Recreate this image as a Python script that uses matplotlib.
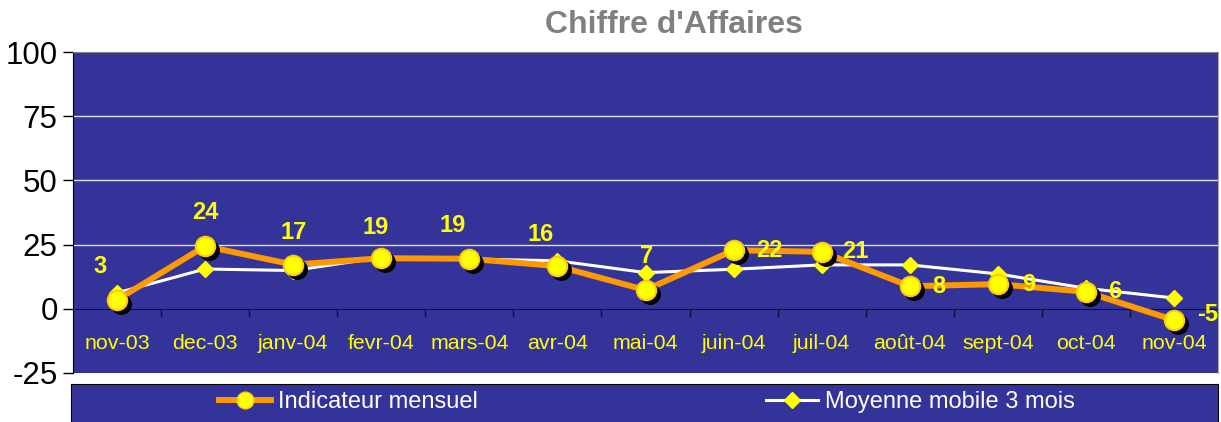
import matplotlib
matplotlib.use("Agg")
import matplotlib.pyplot as plt
import matplotlib.transforms as mtransforms
import numpy as np

plt.rcParams['font.family'] = ['Liberation Sans', 'DejaVu Sans']
plt.rcParams['axes.unicode_minus'] = False

# Data
mois = ["nov-03", "dec-03", "janv-04", "fevr-04", "mars-04", "avr-04", "mai-04",
        "juin-04", "juil-04", "août-04", "sept-04", "oct-04", "nov-04"]
indicateur = [3.5, 24.4, 17.2, 19.7, 19.5, 16.6, 7.3, 22.8, 22.2, 8.8, 9.6, 6.6, -4.4]
etiquettes = ["3", "24", "17", "19", "19", "16", "7", "22", "21", "8", "9", "6", "-5"]
moyenne = [6.2, 15.5, 14.9, 20.0, 19.4, 18.7, 14.1, 15.4, 17.1, 17.1, 13.6, 8.0, 4.2]

navy = "#333399"
orange = "#FF9900"
jaune = "#FFFF00"

W, H = 1221, 422
fig = plt.figure(figsize=(W / 100, H / 100), dpi=100)
ax = fig.add_axes([73 / W, 1 - 373 / H, (1218 - 73) / W, (373 - 52) / H])
ax.set_facecolor(navy)

x = np.arange(len(mois))

# Moyenne mobile (white line, yellow diamonds)
l2, = ax.plot(x, moyenne, color="white", lw=2.2, marker="D", ms=8,
              mfc=jaune, mec=jaune, zorder=3, label="Moyenne mobile 3 mois")

# Indicateur mensuel with black marker shadow
ax.plot(x, indicateur, color=orange, lw=4.3, zorder=4, solid_joinstyle="miter")
shadow = mtransforms.offset_copy(ax.transData, fig=fig, x=4, y=-4, units="dots")
ax.plot(x, indicateur, ls="none", marker="o", ms=14, mfc="black", mec="black",
        transform=shadow, zorder=4.5)
l1, = ax.plot(x, indicateur, ls="none", marker="o", ms=14, mfc=jaune, mec="#FFCC00",
              mew=1.5, zorder=5)
h1 = plt.Line2D([], [], color=orange, lw=4.3, marker="o", ms=12, mfc=jaune, mec="#FFCC00")

# data labels: above for the first months, right of the point afterwards
decal = [(-12, 24), (0, 24), (0, 23), (-4, 22), (-12, 24), (-12, 23), (1, 24),
         (26, 0), (24, 0), (21, 0), (22, 0), (21, 0), (24, 4)]
for i, (v, t) in enumerate(zip(indicateur, etiquettes)):
    dx, dy = decal[i]
    ax.annotate(t, (x[i], v), xytext=(dx, dy), textcoords="offset points",
                ha="center", va="center", color=jaune, fontsize=17,
                fontweight="bold", zorder=6, annotation_clip=False)

ax.set_xlim(-0.5, len(mois) - 0.5)
ax.set_ylim(-25, 100)
ax.set_yticks([-25, 0, 25, 50, 75, 100])
ax.tick_params(axis="y", labelsize=22.5, length=7, width=1, direction="out", pad=4)
for yv in [25, 50, 75]:
    ax.axhline(yv, color="#e0e0f0", lw=1, zorder=1)

ax.spines["bottom"].set_position(("data", 0))
ax.spines["bottom"].set_color("#111133")
ax.spines["bottom"].set_zorder(2)
ax.spines["top"].set_color("#888888")
ax.spines["right"].set_color("#aaaaaa")
ax.spines["left"].set_color("black")
ax.set_xticks(x)
ax.set_xticklabels(mois)
ax.set_xticks(x[:-1] + 0.5, minor=True)
ax.tick_params(axis="x", which="major", length=0, labelsize=15.4,
               labelcolor=jaune, pad=18)
ax.tick_params(axis="x", which="minor", length=6, width=1, color="#111133")

fig.text(674 / W, 1 - 25 / H, "Chiffre d'Affaires", ha="center", va="center",
         fontsize=23, fontweight="bold", color="#808080")

# legend box
lax = fig.add_axes([71 / W, -0.05, (1218 - 71) / W, 0.05 + (422 - 384) / H])
lax.set_facecolor(navy)
lax.set_xticks([])
lax.set_yticks([])
for s in lax.spines.values():
    s.set_color("black")
leg = lax.legend([h1, l2], ["Indicateur mensuel", "Moyenne mobile 3 mois"],
                 loc="center", ncol=2, frameon=False, fontsize=17, labelcolor="white",
                 handlelength=2.2, handletextpad=0.3, columnspacing=12.2)
leg.set_bbox_to_anchor((647 / W, 1 - 402 / H), transform=fig.transFigure)

fig.savefig("out.png", dpi=100, facecolor="white")
